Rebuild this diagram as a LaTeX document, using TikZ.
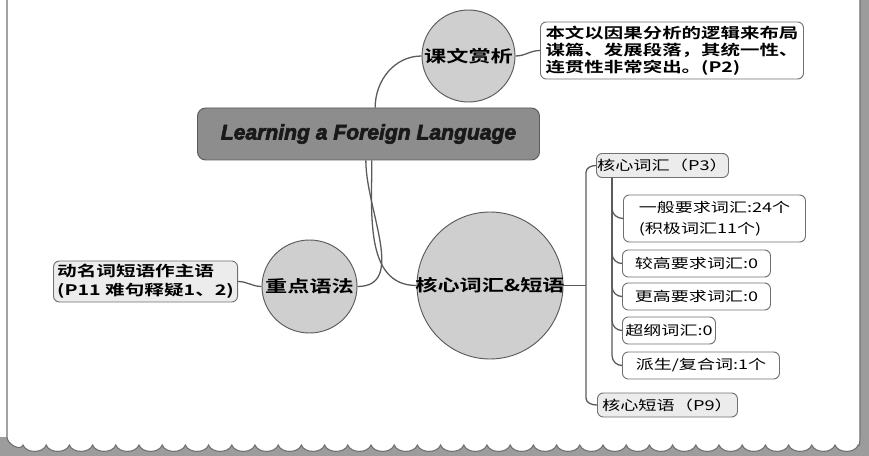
\documentclass[tikz,border=0pt]{standalone}
\usepackage{fontspec}
\usetikzlibrary{shapes.geometric}
\newfontfamily\cjk[FakeStretch=1.35]{Noto Sans CJK SC}
\newfontfamily\cjkb[FakeStretch=1.35]{Noto Sans CJK SC Bold}
\newfontfamily\lat[FakeBold=3]{Liberation Sans Bold Italic}
\definecolor{linec}{HTML}{5A5A5A}
\definecolor{boxline}{HTML}{707070}
\definecolor{bubble}{HTML}{CFCFCF}
\definecolor{rootfill}{HTML}{8D8D8D}
\definecolor{paleb}{HTML}{ECECEC}
\definecolor{edge}{HTML}{9C9C9C}
\newcommand\edgewave{\foreach \i in {1,...,36} { to[out=-70,in=-110] ++(23.2,0) }}

\begin{document}
\begin{tikzpicture}[x=0.03cm,y=-0.03cm,
   topic/.style={ellipse, draw=linec, fill=bubble, line width=0.8pt, inner sep=0pt,
      font=\cjkb\fontsize{14}{16}\selectfont},
   note/.style={draw=boxline, rounded corners=5pt, line width=0.8pt, fill=white,
      anchor=west, align=left, inner sep=0pt, font=\cjkb\fontsize{12.3}{14.5}\selectfont},
   leaf/.style={note, font=\cjk\fontsize{11.4}{17.5}\selectfont},
   link/.style={draw=linec, line width=1.1pt}]
   \useasboundingbox (0,0) rectangle (869,456);
   % paper edge
   \fill[edge] (7,437) to[out=-90,in=-110] (23,445) \edgewave to[out=-70,in=-90] (860,437)
      -- (860,0) -- (869,0) -- (869,456) -- (0,456) -- (0,437) -- cycle;
   \draw[boxline, line width=0.9pt] (7,0) -- (7,437) to[out=-90,in=-110] (23,445) \edgewave
      to[out=-70,in=-90] (860,437) -- (860,0);

   \node[draw=linec, fill=rootfill, rounded corners=7pt, line width=0.8pt,
      minimum width=10.26cm, minimum height=1.56cm, text=black!90,
      font=\lat\fontsize{18}{20}\selectfont] (root) at (368.5,134) {Learning a Foreign Language};
   \node[topic, minimum width=2.79cm, minimum height=2.76cm] (kewen) at (468.5,56) {\makebox[0pt]{课文赏析}};
   \node[topic, minimum width=2.85cm, minimum height=2.79cm] (yufa) at (309.5,286.5) {\makebox[0pt]{重点语法}};
   \node[topic, minimum width=4.38cm, minimum height=4.41cm] (cihui) at (490,285.5) {\makebox[0pt]{核心词汇\&短语}};

   \node[note, minimum width=7.89cm, minimum height=1.71cm] (analysis) at (540,50.5)
      {本文以因果分析的逻辑来布局\\谋篇、发展段落，其统一性、\\连贯性非常突出。(P2)};
   \node[note, fill=paleb, anchor=east, minimum width=5.52cm, minimum height=1.23cm,
      font=\cjkb\fontsize{12.4}{16}\selectfont] (gerund) at (238,281.5)
      {动名词短语作主语\\(P11 难句释疑1、2)};
   \node[note, fill=paleb, minimum width=3.96cm, minimum height=0.72cm,
      font=\cjk\fontsize{11.5}{14}\selectfont] (vocab) at (596,165.5) {核心词汇（P3）};
   \node[note, fill=paleb, minimum width=4.2cm, minimum height=0.72cm,
      font=\cjk\fontsize{11.5}{14}\selectfont] (phrase) at (597,405) {核心短语（P9）};

   \node[leaf, minimum width=5.46cm, minimum height=1.41cm] (s1) at (623,218.5) {一般要求词汇:24个\\(积极词汇11个)};
   \node[leaf, minimum width=4.44cm, minimum height=0.81cm] (s2) at (622,263.5) {较高要求词汇:0};
   \node[leaf, minimum width=4.44cm, minimum height=0.81cm] (s3) at (622,296.5) {更高要求词汇:0};
   \node[leaf, minimum width=2.79cm, minimum height=0.81cm] (s4) at (622,330.5) {超纲词汇:0};
   \node[leaf, minimum width=4.71cm, minimum height=0.81cm] (s5) at (622,365.5) {派生/复合词:1个};

   \draw[link] ([xshift=0.2cm]root.north) to[out=90,in=180] (kewen.west);
   \draw[link] (kewen.east) to[out=0,in=180] (analysis.west);
   \draw[link] ([xshift=-0.08cm]root.south) to[out=-90,in=0] (yufa.east);
   \draw[link] ([xshift=0.1cm]root.south) to[out=-90,in=180] (cihui.west);
   \draw[link] (gerund.east) to[out=0,in=180] (yufa.west);

   \coordinate (trunk) at (586,285.5);
   \draw[link] (cihui.east) -- (trunk);
   \draw[link] (trunk) -- ([yshift=-0.21cm]trunk |- vocab.west) to[out=90,in=180] (vocab.west);
   \draw[link] (trunk) -- ([yshift=0.21cm]trunk |- phrase.west) to[out=-90,in=180] (phrase.west);

   \coordinate (sub) at ([xshift=0.48cm]vocab.south west);
   \foreach \s in {s1,s2,s3,s4,s5}
      \draw[link] (sub) -- ([yshift=0.3cm]sub |- \s.west) to[out=-90,in=180] (\s.west);
\end{tikzpicture}
\end{document}
